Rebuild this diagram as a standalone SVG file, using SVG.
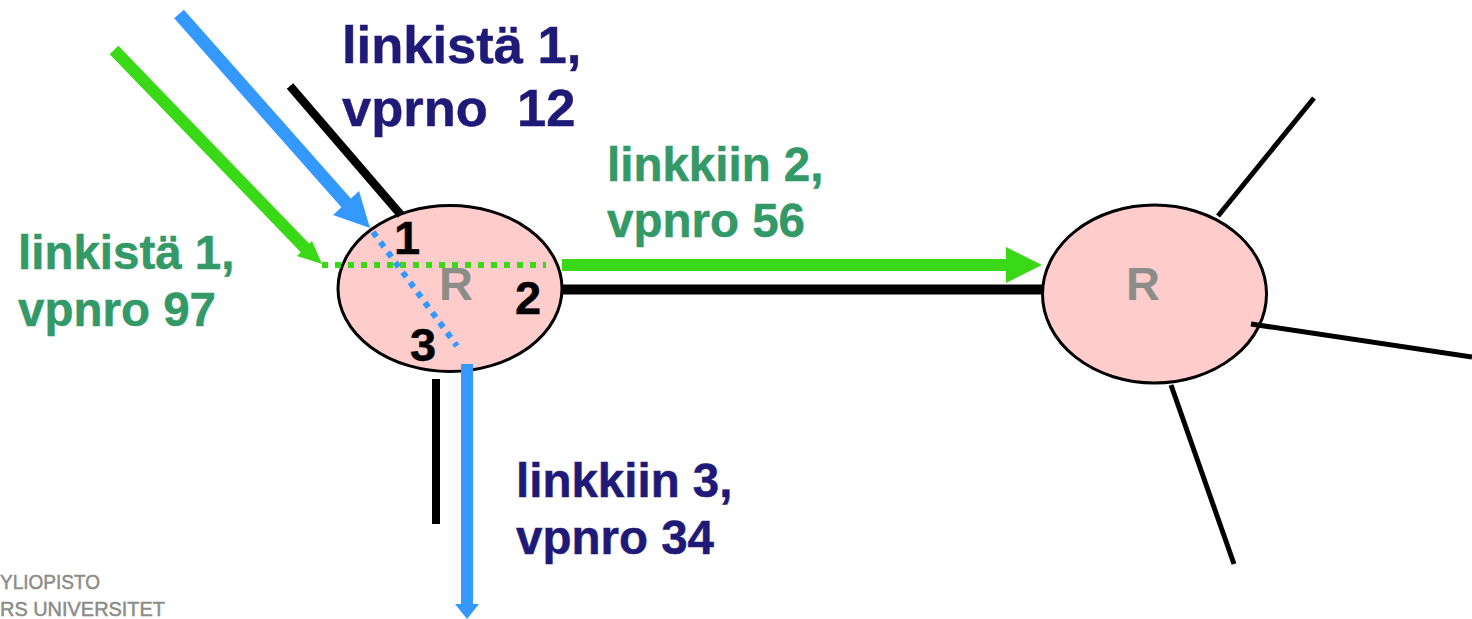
<svg xmlns="http://www.w3.org/2000/svg" width="1472" height="619" viewBox="0 0 1472 619">
<style>
text{font-family:"Liberation Sans",Arial,sans-serif;font-weight:700}
.lbl{font-size:47.5px;stroke-width:.5px}
.top{font-size:52.5px}
.navy{fill:#1f1a78;stroke:#1f1a78}
.grn{fill:#339966;stroke:#339966}
.r{font-size:47px;fill:#8c8c88}
.n{font-size:47px;fill:#000;stroke:#000;stroke-width:.5px}
.node{fill:#ffcccc;stroke:#000;stroke-width:3}
.k{stroke:#000;fill:none}
.logo{font-size:21px;font-weight:400;fill:#8c8c88;stroke:#8c8c88;stroke-width:.5px}
</style>
<g id="node-router-left">
<ellipse class="node" cx="450" cy="288.500" rx="112" ry="83"/>
<text class="r" x="439" y="300">R</text>
<text class="n" x="394" y="254">1</text>
<text class="n" x="515" y="314">2</text>
<text class="n" x="410" y="361">3</text>
</g>
<g id="node-router-right">
<ellipse class="node" cx="1154.500" cy="294" rx="112" ry="89"/>
<text class="r" x="1126" y="300">R</text>
</g>
<g id="connectors">
<line class="k" x1="290" y1="86" x2="401" y2="215" stroke-width="8.500"/>
<line class="k" x1="563" y1="289.500" x2="1043" y2="289.500" stroke-width="10"/>
<line class="k" x1="436" y1="379" x2="436" y2="524" stroke-width="8"/>
<line class="k" x1="1218" y1="216" x2="1314" y2="98" stroke-width="5"/>
<line class="k" x1="1251" y1="324" x2="1472" y2="357" stroke-width="5"/>
<line class="k" x1="1171" y1="385" x2="1234" y2="564" stroke-width="5"/>
</g>
<g id="flows">
<line x1="179" y1="14" x2="348" y2="205" stroke="#3399ff" stroke-width="13"/>
<polygon points="370,228 333,215 359,191" fill="#3399ff"/>
<line x1="114" y1="50" x2="306" y2="249" stroke="#39d918" stroke-width="12"/>
<polygon points="322,264 297,256 312,241" fill="#39d918"/>
<line x1="322" y1="265" x2="546" y2="265" stroke="#39d918" stroke-width="6" stroke-dasharray="6 7"/>
<line x1="373" y1="232" x2="457" y2="346" stroke="#3399ff" stroke-width="6" stroke-dasharray="6 6.500"/>
<line x1="562" y1="265" x2="1008" y2="265" stroke="#39d918" stroke-width="12"/>
<polygon points="1042,265 1006,247 1006,283" fill="#39d918"/>
<line x1="467" y1="364" x2="467" y2="606" stroke="#3399ff" stroke-width="12"/>
<polygon points="455,604 479,604 467,619" fill="#3399ff"/>
</g>
<g id="labels">
<text class="lbl top navy" x="342" y="63">linkistä 1,</text>
<text class="lbl top navy" x="342" y="126" xml:space="preserve">vprno  12</text>
<text class="lbl grn" x="607" y="181">linkkiin 2,</text>
<text class="lbl grn" x="607" y="237">vpnro 56</text>
<text class="lbl grn" x="18" y="269">linkistä 1,</text>
<text class="lbl grn" x="18" y="326">vpnro 97</text>
<text class="lbl navy" x="516" y="497">linkkiin 3,</text>
<text class="lbl navy" x="516" y="554">vpnro 34</text>
</g>
<g id="logo">
<text class="logo" x="0" y="589" textLength="100" lengthAdjust="spacingAndGlyphs">YLIOPISTO</text>
<text class="logo" x="0" y="616" textLength="165" lengthAdjust="spacingAndGlyphs">RS UNIVERSITET</text>
</g>
</svg>
